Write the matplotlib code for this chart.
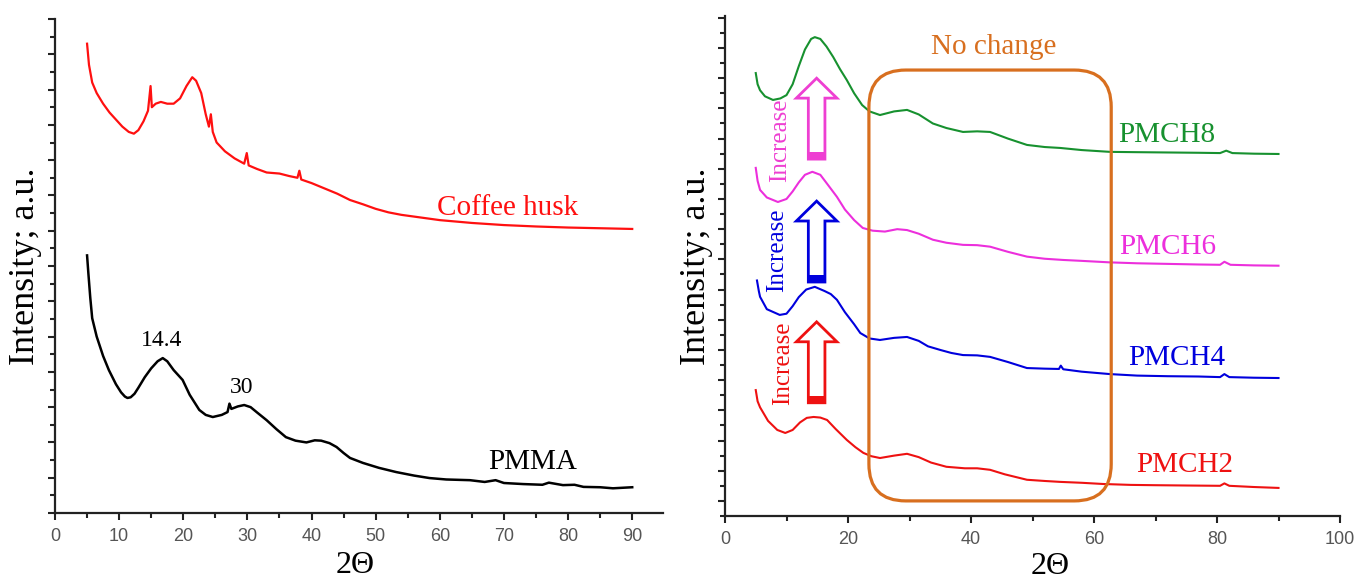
import matplotlib
matplotlib.use("Agg")
import matplotlib.pyplot as plt
import numpy as np
from matplotlib.patches import FancyBboxPatch, Polygon, Rectangle
from matplotlib.ticker import MultipleLocator

# ---- left panel: coffee husk and PMMA ----
husk_x = [5.0, 5.3, 5.8, 6.5, 7.5, 8.5, 9.5, 10.5, 11.5, 12.3, 13.0, 13.8, 14.5, 14.9, 15.1,
          15.7, 16.5, 17.5, 18.5, 19.5, 20.5, 21.4, 22.0, 22.8, 23.5, 24.0, 24.3, 24.6, 25.2,
          26.5, 28.0, 29.5, 29.9, 30.2, 31.5, 33.0, 35.0, 36.5, 37.8, 38.1, 38.4, 40.0, 42.0,
          44.0, 46.0, 48.0, 50.0, 52.0, 54.0, 56.0, 58.0, 60.0, 65.0, 70.0, 75.0, 80.0, 85.0, 90.0]
husk_y = [13.3, 12.7, 12.2, 11.9, 11.6, 11.35, 11.15, 10.95, 10.8, 10.75, 10.85, 11.1, 11.4, 12.1, 11.5,
          11.6, 11.65, 11.6, 11.6, 11.75, 12.1, 12.35, 12.25, 11.9, 11.3, 10.95, 11.3, 10.8, 10.5,
          10.25, 10.05, 9.9, 10.2, 9.85, 9.75, 9.65, 9.62, 9.55, 9.5, 9.7, 9.45, 9.35, 9.2,
          9.05, 8.87, 8.75, 8.62, 8.52, 8.45, 8.4, 8.35, 8.3, 8.22, 8.16, 8.12, 8.09, 8.07, 8.05]

pmma_x = [5.0, 5.2, 5.5, 5.8, 6.5, 7.5, 8.4, 9.5, 10.3, 10.9, 11.3, 11.8, 12.4, 13.0, 14.0, 15.0,
          16.0, 16.8, 17.5, 18.5, 19.9, 21.0, 22.5, 23.5, 24.6, 26.0, 26.9, 27.2, 27.5, 28.5,
          29.5, 30.5, 31.5, 33.0, 34.5, 36.0, 37.5, 39.2, 40.5, 41.5, 42.8, 43.9, 45.0, 46.0,
          48.0, 50.5, 53.2, 56.0, 58.4, 61.0, 64.7, 67.0, 68.7, 70.0, 73.0, 76.0, 77.0, 79.2,
          81.0, 82.4, 85.0, 87.0, 90.0]
pmma_y = [7.3, 6.8, 6.1, 5.52, 5.0, 4.45, 4.05, 3.65, 3.42, 3.3, 3.26, 3.28, 3.38, 3.55, 3.85, 4.1,
          4.3, 4.39, 4.3, 4.05, 3.77, 3.35, 2.92, 2.78, 2.72, 2.78, 2.86, 3.1, 2.95, 3.02,
          3.06, 3.0, 2.85, 2.63, 2.38, 2.15, 2.05, 2.0, 2.06, 2.05, 1.98, 1.87, 1.7, 1.56,
          1.42, 1.28, 1.16, 1.06, 0.99, 0.95, 0.93, 0.88, 0.93, 0.85, 0.82, 0.8, 0.86, 0.79,
          0.8, 0.74, 0.73, 0.7, 0.73]

# ---- right panel: PMCH composites ----
pmch8_x = [5.0, 5.3, 5.7, 6.5, 7.8, 9.0, 10.0, 11.0, 12.0, 13.0, 14.0, 14.6, 15.5, 16.5, 17.6,
           18.7, 19.8, 21.0, 22.3, 23.5, 25.2, 27.5, 29.6, 31.5, 33.8, 36.0, 38.7, 41.0, 43.1,
           46.0, 49.1, 52.0, 54.5, 58.0, 62.6, 67.0, 72.0, 77.0, 80.5, 81.5, 82.5, 86.0, 90.0]
pmch8_y = [14.17, 13.8, 13.6, 13.4, 13.28, 13.33, 13.44, 13.8, 14.4, 14.95, 15.3, 15.36, 15.3, 15.05, 14.7,
           14.3, 13.94, 13.5, 13.11, 12.9, 12.78, 12.9, 12.95, 12.8, 12.5, 12.35, 12.22, 12.24, 12.22,
           12.0, 11.79, 11.72, 11.69, 11.62, 11.56, 11.55, 11.54, 11.53, 11.52, 11.6, 11.52, 11.5, 11.49]

pmch6_x = [5.0, 5.3, 5.7, 6.8, 8.6, 10.0, 11.0, 12.0, 13.0, 14.2, 15.5, 16.8, 18.2, 19.5, 21.0,
           22.4, 24.0, 26.0, 28.0, 29.6, 31.5, 33.8, 36.0, 38.7, 41.0, 43.1, 46.0, 49.1, 52.0,
           55.0, 58.0, 62.6, 67.0, 72.0, 77.0, 80.5, 81.2, 82.2, 86.0, 90.0]
pmch6_y = [11.03, 10.6, 10.3, 10.05, 9.9, 10.0, 10.25, 10.55, 10.8, 10.9, 10.8, 10.45, 10.07, 9.65, 9.3,
           9.04, 8.95, 8.92, 9.0, 8.97, 8.85, 8.65, 8.55, 8.48, 8.47, 8.42, 8.25, 8.09, 8.02,
           7.98, 7.95, 7.9, 7.87, 7.85, 7.83, 7.82, 7.92, 7.82, 7.8, 7.79]

pmch4_x = [5.2, 5.5, 5.7, 6.8, 8.9, 10.0, 11.0, 12.0, 13.2, 14.6, 16.2, 17.2, 18.2, 19.5, 21.0,
           22.0, 23.5, 25.2, 27.5, 29.6, 31.5, 33.0, 35.0, 36.8, 38.7, 41.0, 43.1, 46.0, 49.1,
           52.0, 54.3, 54.6, 55.0, 58.0, 62.6, 67.0, 72.0, 77.0, 80.5, 81.2, 82.0, 86.0, 90.0]
pmch4_y = [7.3, 6.95, 6.76, 6.35, 6.16, 6.2, 6.45, 6.75, 7.0, 7.09, 6.95, 6.85, 6.66, 6.25, 5.85,
           5.56, 5.38, 5.33, 5.4, 5.43, 5.3, 5.12, 5.0, 4.9, 4.83, 4.82, 4.77, 4.6, 4.4,
           4.38, 4.37, 4.48, 4.36, 4.28, 4.2, 4.15, 4.13, 4.12, 4.1, 4.2, 4.1, 4.08, 4.07]

pmch2_x = [5.0, 5.3, 5.7, 7.0, 8.5, 9.8, 11.0, 12.2, 13.3, 14.4, 15.5, 16.6, 18.0, 19.8, 21.2,
           22.5, 23.8, 25.2, 27.5, 29.6, 31.5, 33.5, 36.0, 39.0, 41.0, 43.1, 45.5, 49.1, 52.0,
           54.5, 58.0, 61.5, 66.0, 70.0, 75.0, 80.5, 81.2, 82.0, 86.0, 90.0]
pmch2_y = [3.67, 3.3, 3.1, 2.65, 2.35, 2.25, 2.35, 2.6, 2.75, 2.78, 2.76, 2.68, 2.38, 2.02, 1.78,
           1.59, 1.48, 1.42, 1.5, 1.56, 1.45, 1.27, 1.13, 1.08, 1.08, 1.03, 0.88, 0.7, 0.66,
           0.63, 0.6, 0.56, 0.53, 0.52, 0.51, 0.5, 0.58, 0.5, 0.46, 0.43]

right_labels = ["PMCH8", "PMCH6", "PMCH4", "PMCH2"]
right_colors = ["#17912f", "#ec2fdc", "#0000dd", "#ee1111"]
label_pos = [(71.9, 12.12), (72.0, 8.41), (73.4, 4.74), (74.7, 1.19)]

# arrows: (centre x, bottom y, top y, colour)
arrows = [(14.9, 11.32, 14.0, "#ee3fd2"), (14.9, 7.25, 9.93, "#0000dd"), (14.9, 3.25, 5.93, "#ee1111")]
increase_pos = [(8.94, 11.95, "#ee3fd2"), (8.46, 8.31, "#0000dd"), (9.43, 4.57, "#ee1111")]

orange = "#d86f1f"
serif = ["Liberation Serif", "DejaVu Serif"]
tick_grey = "#555555"

fig = plt.figure(figsize=(13.68, 5.79), dpi=100)
ax1 = fig.add_axes([55 / 1368, 1 - 513 / 579, 608 / 1368, 494 / 579])
ax2 = fig.add_axes([725 / 1368, 1 - 516 / 579, 615 / 1368, 500 / 579])


def style(ax):
    for s in ["top", "right"]:
        ax.spines[s].set_visible(False)
    for s in ["left", "bottom"]:
        ax.spines[s].set_linewidth(1.6)
        ax.spines[s].set_color("#222222")
    ax.tick_params(which="both", direction="out", color="#222222", width=1.5)
    ax.tick_params(which="major", length=5)
    ax.tick_params(which="minor", length=3.5)
    ax.tick_params(axis="x", labelsize=13, labelcolor=tick_grey, pad=6)
    ax.tick_params(axis="y", labelleft=False)
    for lab in ax.get_xticklabels():
        lab.set_family("Liberation Sans")


ax1.plot(husk_x, husk_y, color="#ff1010", lw=1.6)
ax1.plot(pmma_x, pmma_y, color="black", lw=1.8)
ax1.set_xlim(0, 94.8)
ax1.set_ylim(0, 14)
ax1.xaxis.set_major_locator(MultipleLocator(10))
ax1.xaxis.set_minor_locator(MultipleLocator(5))
ax1.yaxis.set_major_locator(MultipleLocator(1))
ax1.yaxis.set_minor_locator(MultipleLocator(0.5))
style(ax1)
ax1.text(70.6, 8.64, "Coffee husk", color="#ff1010", fontsize=21, family=serif, ha="center", va="center")
ax1.text(74.4, 1.44, "PMMA", color="black", fontsize=21, family=serif, ha="center", va="center")
ax1.text(16.7, 4.9, "14.4", fontsize=17, family=serif, ha="center", va="center")
ax1.text(29.1, 3.57, "30", fontsize=17, family=serif, ha="center", va="center")
ax1.set_xlabel("2Θ", fontsize=23, family=serif)
ax1.set_ylabel("Intensity; a.u.", fontsize=26, family=serif)
ax1.xaxis.set_label_coords(0.493, -0.077)
ax1.yaxis.set_label_coords(-0.022, 0.5)

series = [(pmch8_x, pmch8_y), (pmch6_x, pmch6_y), (pmch4_x, pmch4_y), (pmch2_x, pmch2_y)]
for (xs, ys), c, name, (lx, ly) in zip(series, right_colors, right_labels, label_pos):
    ax2.plot(xs, ys, color=c, lw=1.5)
    ax2.text(lx, ly, name, color=c, fontsize=21, family=serif, ha="center", va="center")

ax2.set_xlim(0, 100)
ax2.set_ylim(-0.5, 16.06)
ax2.xaxis.set_major_locator(MultipleLocator(20))
ax2.xaxis.set_minor_locator(MultipleLocator(10))
ax2.yaxis.set_major_locator(MultipleLocator(1))
ax2.yaxis.set_minor_locator(MultipleLocator(0.5))
style(ax2)
ax2.set_xlabel("2Θ", fontsize=23, family=serif)
ax2.set_ylabel("Intensity; a.u.", fontsize=26, family=serif)
ax2.xaxis.set_label_coords(0.528, -0.072)
ax2.yaxis.set_label_coords(-0.02, 0.5)

# "No change" rounded box
box = FancyBboxPatch((23.4, 0), 62.8 - 23.4, 14.27, boxstyle="round,pad=0,rounding_size=6",
                     mutation_aspect=6.15 / 30.2, fill=False, ec=orange, lw=2.3, zorder=3)
ax2.add_patch(box)
ax2.text(43.7, 15.03, "No change", color=orange, fontsize=21, family=serif, ha="center", va="center")

# hollow "Increase" arrows
hw, HW, hl, base = 1.35, 3.3, 0.66, 0.23
for cx, yb, yt, c in arrows:
    verts = [(cx - hw, yb), (cx - hw, yt - hl), (cx - HW, yt - hl), (cx, yt),
             (cx + HW, yt - hl), (cx + hw, yt - hl), (cx + hw, yb)]
    ax2.add_patch(Polygon(verts, closed=True, fill=False, ec=c, lw=2.0, joinstyle="miter", zorder=4))
    ax2.add_patch(Rectangle((cx - hw, yb), 2 * hw, base, color=c, lw=0, zorder=4))
for tx, ty, c in increase_pos:
    ax2.text(tx, ty, "Increase", color=c, fontsize=18, family=serif, rotation=90,
             ha="center", va="center")

fig.savefig("out.png", dpi=100)
